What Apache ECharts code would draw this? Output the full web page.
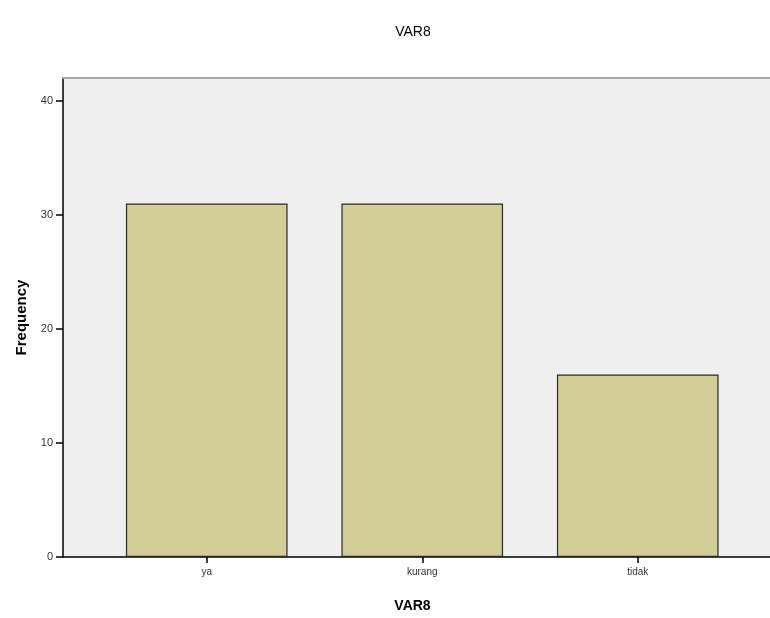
<!DOCTYPE html>
<html>
<head>
<meta charset="utf-8">
<script src="https://cdn.jsdelivr.net/npm/echarts@6/dist/echarts.min.js"></script>
<style>
  html, body { margin: 0; padding: 0; background: #fff; }
  #chart { width: 770px; height: 618px; }
</style>
</head>
<body>
<div id="chart"></div>
<script>
// Frequency counts for VAR8
const categories = ['ya', 'kurang', 'tidak'];
const frequencies = [31, 31, 16];
const yTicks = { min: 0, max: 42, interval: 10 };

const FONT = '"Liberation Sans", Arial, sans-serif';
const chart = echarts.init(document.getElementById('chart'));

chart.setOption({
  animation: false,
  backgroundColor: '#ffffff',
  title: {
    text: 'VAR8',
    left: 408,
    textAlign: 'center',
    top: 20,
    textStyle: { fontFamily: FONT, fontSize: 14, fontWeight: 'normal', color: '#000' }
  },
  grid: [
    // frame: grey plot background and the frequency axis
    { left: 63, right: -40, top: 78, bottom: 61, show: true,
      backgroundColor: '#efefef', borderWidth: 0 },
    // bar band area
    { left: 99, right: 24.5, top: 78, bottom: 61 }
  ],
  xAxis: [
    { type: 'value', gridIndex: 0, min: 0, max: 1,
      axisLine: { show: true, onZero: false, lineStyle: { color: '#000', width: 1.5 } },
      axisTick: { show: false }, axisLabel: { show: false }, splitLine: { show: false },
      name: 'VAR8', nameLocation: 'middle', nameGap: 42,
      nameTextStyle: { fontFamily: FONT, fontSize: 14, fontWeight: 'bold', color: '#000',
                       padding: [0, 0, 0, -8] } },
    { type: 'category', gridIndex: 1, data: categories,
      axisLine: { show: false },
      axisTick: { show: true, alignWithLabel: true, length: 6, lineStyle: { color: '#000', width: 1.5 } },
      axisLabel: { fontFamily: FONT, fontSize: 10, color: '#333', margin: 10 } },
    // thin grey top edge of the plot frame
    { type: 'value', gridIndex: 0, position: 'top', min: 0, max: 1,
      axisLine: { show: true, onZero: false, lineStyle: { color: '#a8a8a8', width: 2 } },
      axisTick: { show: false }, axisLabel: { show: false }, splitLine: { show: false } }
  ],
  yAxis: [
    { type: 'value', gridIndex: 0, min: yTicks.min, max: yTicks.max, interval: yTicks.interval,
      axisLine: { show: true, lineStyle: { color: '#000', width: 1.5 } },
      axisTick: { show: true, length: 7, lineStyle: { color: '#000', width: 1.5 } },
      axisLabel: { fontFamily: FONT, fontSize: 11, color: '#333', margin: 10,
                   showMaxLabel: false },
      splitLine: { show: false },
      name: 'Frequency', nameLocation: 'middle', nameGap: 34, nameRotate: 90,
      nameTextStyle: { fontFamily: FONT, fontSize: 15, fontWeight: 'bold', color: '#000' } },
    { type: 'value', gridIndex: 1, min: yTicks.min, max: yTicks.max, interval: yTicks.interval,
      show: false, splitLine: { show: false } }
  ],
  series: [{
    type: 'bar',
    xAxisIndex: 1,
    yAxisIndex: 1,
    data: frequencies,
    barCategoryGap: '25%',
    itemStyle: { color: '#d3ce97', borderColor: '#2a2a2a', borderWidth: 1.2 }
  }]
});
</script>
</body>
</html>
